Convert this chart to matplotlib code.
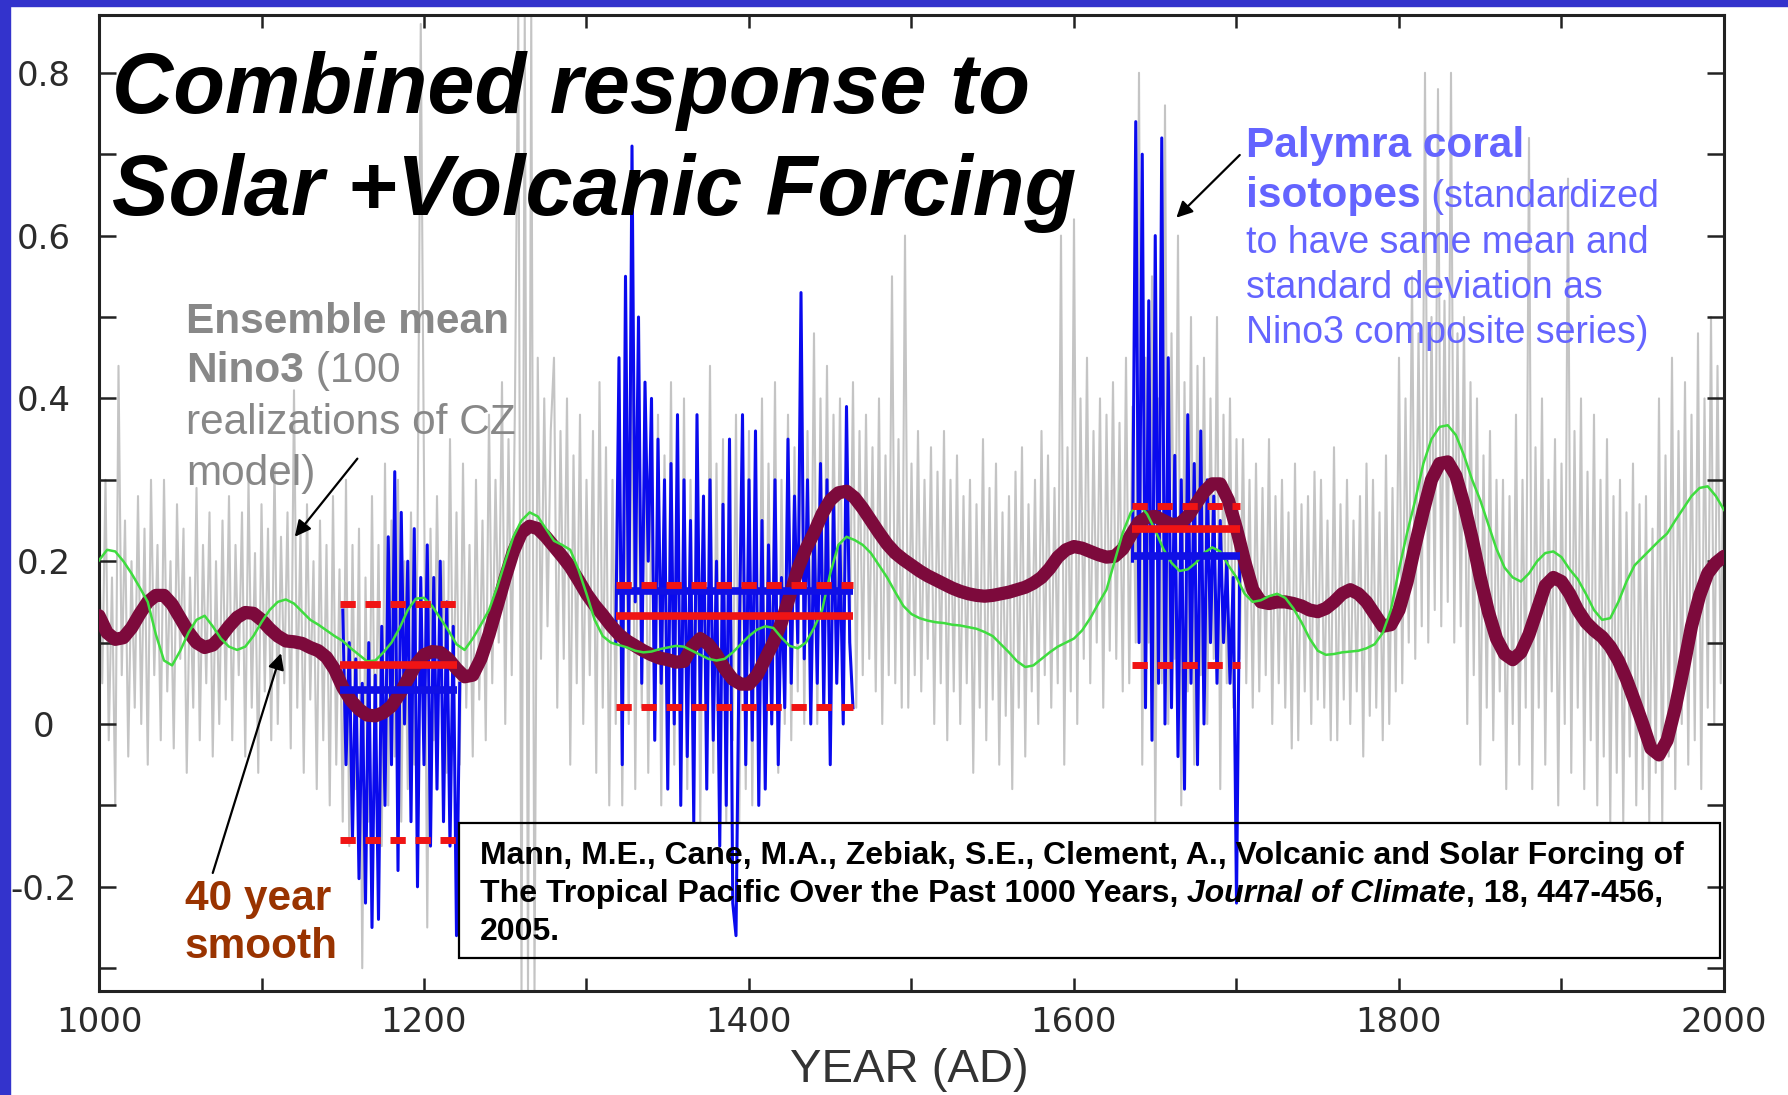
import numpy as np
import matplotlib.pyplot as plt
from matplotlib.patches import Rectangle

W, H = 1788, 1095

# serie anual del modelo (cada 2 años), una fila = 40 años
nino3_years = np.arange(1000, 2001, 2)
nino3_mean = [
    0.22, 0.05, 0.30, -0.02, 0.18, -0.10, 0.44, 0.06, 0.25, -0.04, 0.20, 0.02, 0.28, 0.00, 0.24, -0.05, 0.30, 0.06, 0.22, -0.02,
    0.30, 0.04, 0.20, -0.03, 0.27, 0.08, 0.24, -0.06, 0.18, 0.02, 0.29, -0.02, 0.22, 0.05, 0.26, -0.04, 0.20, 0.00, 0.25, 0.03,
    0.28, -0.02, 0.22, 0.06, 0.26, -0.04, 0.30, 0.02, 0.21, -0.06, 0.27, 0.04, 0.24, -0.02, 0.32, 0.00, 0.23, 0.05, 0.26, -0.03,
    0.41, 0.02, 0.24, -0.06, 0.27, 0.03, 0.20, -0.08, 0.25, -0.02, 0.22, -0.10, 0.28, -0.05, 0.19, -0.12, 0.30, -0.15, 0.22, -0.08,
    0.24, -0.30, 0.18, -0.12, 0.28, -0.08, 0.22, -0.15, 0.32, -0.10, 0.25, -0.04, 0.30, -0.12, 0.20, -0.08, 0.26, -0.05, 0.22, 0.86,
    0.30, -0.25, 0.24, -0.02, 0.28, 0.04, 0.20, -0.06, 0.35, 0.00, 0.26, -0.05, 0.32, 0.02, 0.22, -0.04, 0.30, 0.03, 0.25, -0.02,
    0.38, 0.05, 0.30, 0.10, 0.42, 0.00, 0.35, 0.06, 0.40, 0.87, -0.33, 0.87, -0.33, 0.87, -0.33, 0.45, 0.08, 0.40, 0.12, 0.36,
    0.45, 0.02, 0.36, 0.08, 0.40, -0.05, 0.33, 0.05, 0.38, 0.00, 0.30, 0.06, 0.36, -0.06, 0.42, 0.02, 0.34, -0.10, 0.30, 0.00,
    0.40, -0.10, 0.32, 0.00, 0.45, -0.08, 0.35, 0.02, 0.40, -0.06, 0.30, -0.02, 0.38, -0.10, 0.33, 0.00, 0.42, -0.05, 0.30, -0.08,
    0.40, -0.08, 0.30, 0.00, 0.36, -0.12, 0.28, -0.04, 0.44, -0.06, 0.32, -0.08, 0.35, -0.12, 0.27, -0.02, 0.38, -0.12, 0.30, -0.08,
    0.36, -0.10, 0.28, -0.02, 0.40, -0.05, 0.32, 0.02, 0.42, -0.06, 0.30, 0.00, 0.38, -0.02, 0.34, 0.04, 0.45, 0.00, 0.36, 0.05,
    0.48, 0.00, 0.40, 0.06, 0.44, 0.02, 0.38, 0.08, 0.40, 0.05, 0.35, 0.10, 0.42, 0.02, 0.36, 0.06, 0.38, 0.08, 0.34, 0.04,
    0.40, 0.00, 0.33, 0.06, 0.55, 0.05, 0.35, 0.02, 0.60, 0.02, 0.32, 0.06, 0.36, 0.04, 0.30, 0.08, 0.34, 0.00, 0.31, 0.05,
    0.36, -0.02, 0.30, 0.04, 0.33, 0.00, 0.28, 0.05, 0.30, -0.06, 0.27, 0.02, 0.35, -0.02, 0.29, 0.03, 0.32, -0.05, 0.26, 0.01,
    0.28, -0.08, 0.31, 0.02, 0.34, -0.04, 0.27, 0.04, 0.30, 0.00, 0.36, 0.06, 0.33, 0.02, 0.29, 0.05, 0.60, -0.05, 0.34, 0.04,
    0.62, 0.00, 0.40, 0.08, 0.45, 0.05, 0.36, 0.10, 0.40, 0.02, 0.38, 0.09, 0.42, 0.08, 0.37, 0.04, 0.45, 0.05, 0.39, 0.10,
    0.80, -0.05, 0.45, 0.10, 0.55, -0.12, 0.40, 0.05, 0.76, 0.00, 0.48, 0.08, 0.60, -0.10, 0.42, 0.04, 0.50, -0.05, 0.44, 0.06,
    0.45, 0.00, 0.40, 0.08, 0.50, -0.08, 0.38, 0.05, 0.40, 0.02, 0.35, 0.08, 0.35, 0.05, 0.30, 0.02, 0.32, 0.04, 0.29, 0.06,
    0.35, 0.00, 0.28, 0.05, 0.30, 0.02, 0.26, -0.03, 0.32, -0.02, 0.27, 0.04, 0.28, 0.00, 0.31, 0.03, 0.30, 0.02, 0.25, -0.02,
    0.34, -0.02, 0.27, 0.03, 0.30, 0.00, 0.25, 0.04, 0.28, -0.04, 0.32, 0.01, 0.30, 0.02, 0.26, -0.02, 0.33, 0.00, 0.29, 0.04,
    0.45, 0.05, 0.40, 0.10, 0.55, 0.08, 0.48, 0.12, 0.80, 0.10, 0.50, 0.14, 0.78, 0.12, 0.52, 0.15, 0.80, 0.10, 0.48, 0.12,
    0.50, 0.00, 0.42, 0.06, 0.40, -0.05, 0.33, 0.02, 0.36, -0.02, 0.30, 0.04, 0.30, -0.08, 0.28, 0.00, 0.38, -0.05, 0.30, 0.02,
    0.72, -0.08, 0.34, 0.02, 0.40, -0.05, 0.30, 0.04, 0.35, -0.10, 0.32, 0.00, 0.67, -0.06, 0.36, 0.02, 0.40, -0.08, 0.31, -0.02,
    0.38, -0.10, 0.30, -0.04, 0.35, -0.12, 0.28, -0.06, 0.30, -0.12, 0.26, -0.04, 0.32, -0.10, 0.27, -0.08, 0.28, -0.12, 0.24, -0.06,
    0.40, -0.12, 0.33, -0.04, 0.45, -0.08, 0.36, 0.00, 0.42, -0.05, 0.38, -0.02, 0.48, -0.08, 0.40, 0.02, 0.50, 0.00, 0.44, 0.05,
    0.40,
]

# curvas suavizadas (cada 5 años), una fila = un siglo
smooth_years = np.arange(1000, 2001, 5)
smooth40 = [
    0.133, 0.112, 0.104, 0.106, 0.118, 0.135, 0.150, 0.158, 0.158, 0.147, 0.130, 0.113, 0.100, 0.094, 0.097, 0.107, 0.120, 0.131, 0.137, 0.136,
    0.128, 0.117, 0.108, 0.102, 0.101, 0.099, 0.094, 0.090, 0.082, 0.067, 0.045, 0.029, 0.018, 0.011, 0.010, 0.014, 0.022, 0.037, 0.055, 0.073,
    0.085, 0.089, 0.088, 0.080, 0.068, 0.058, 0.060, 0.080, 0.110, 0.145, 0.180, 0.212, 0.235, 0.243, 0.240, 0.230, 0.218, 0.206, 0.193, 0.177,
    0.160, 0.146, 0.134, 0.121, 0.110, 0.102, 0.096, 0.090, 0.085, 0.081, 0.079, 0.076, 0.077, 0.095, 0.105, 0.098, 0.085, 0.068, 0.055, 0.049,
    0.049, 0.060, 0.080, 0.100, 0.125, 0.157, 0.190, 0.215, 0.235, 0.258, 0.275, 0.284, 0.286, 0.278, 0.265, 0.250, 0.235, 0.221, 0.210, 0.202,
    0.195, 0.188, 0.182, 0.177, 0.172, 0.167, 0.163, 0.160, 0.158, 0.157, 0.158, 0.160, 0.162, 0.165, 0.168, 0.173, 0.180, 0.191, 0.205, 0.214,
    0.218, 0.216, 0.212, 0.208, 0.205, 0.206, 0.215, 0.232, 0.248, 0.254, 0.255, 0.250, 0.245, 0.246, 0.255, 0.270, 0.285, 0.295, 0.295, 0.275,
    0.240, 0.200, 0.165, 0.150, 0.148, 0.150, 0.150, 0.148, 0.145, 0.140, 0.138, 0.142, 0.150, 0.160, 0.165, 0.160, 0.150, 0.135, 0.120, 0.122,
    0.140, 0.175, 0.220, 0.262, 0.300, 0.320, 0.322, 0.305, 0.270, 0.228, 0.180, 0.138, 0.105, 0.086, 0.079, 0.088, 0.110, 0.140, 0.170, 0.180,
    0.175, 0.160, 0.140, 0.125, 0.115, 0.107, 0.095, 0.078, 0.055, 0.028, 0.000, -0.030, -0.038, -0.020, 0.020, 0.068, 0.120, 0.158, 0.185, 0.198,
    0.206,
]
green_smooth = [
    0.201, 0.214, 0.212, 0.200, 0.185, 0.168, 0.150, 0.110, 0.078, 0.072, 0.090, 0.112, 0.128, 0.133, 0.120, 0.105, 0.095, 0.091, 0.095, 0.108,
    0.125, 0.140, 0.150, 0.153, 0.148, 0.138, 0.128, 0.122, 0.115, 0.108, 0.102, 0.093, 0.085, 0.077, 0.078, 0.088, 0.100, 0.118, 0.140, 0.154,
    0.155, 0.145, 0.130, 0.115, 0.098, 0.091, 0.105, 0.122, 0.140, 0.168, 0.200, 0.230, 0.250, 0.260, 0.255, 0.240, 0.225, 0.220, 0.214, 0.190,
    0.160, 0.128, 0.108, 0.100, 0.097, 0.094, 0.090, 0.088, 0.089, 0.092, 0.094, 0.096, 0.095, 0.090, 0.085, 0.080, 0.078, 0.080, 0.088, 0.098,
    0.108, 0.116, 0.120, 0.118, 0.106, 0.096, 0.093, 0.100, 0.118, 0.140, 0.185, 0.220, 0.230, 0.226, 0.220, 0.210, 0.195, 0.180, 0.162, 0.145,
    0.135, 0.130, 0.127, 0.125, 0.124, 0.122, 0.121, 0.119, 0.117, 0.113, 0.108, 0.098, 0.088, 0.077, 0.070, 0.072, 0.080, 0.088, 0.095, 0.100,
    0.105, 0.115, 0.130, 0.148, 0.165, 0.200, 0.235, 0.260, 0.270, 0.258, 0.238, 0.215, 0.198, 0.188, 0.190, 0.198, 0.210, 0.217, 0.212, 0.195,
    0.180, 0.160, 0.150, 0.152, 0.157, 0.160, 0.155, 0.142, 0.125, 0.105, 0.090, 0.085, 0.086, 0.088, 0.089, 0.090, 0.093, 0.098, 0.112, 0.140,
    0.190, 0.235, 0.275, 0.320, 0.350, 0.365, 0.367, 0.355, 0.330, 0.300, 0.275, 0.245, 0.215, 0.192, 0.180, 0.175, 0.185, 0.200, 0.210, 0.212,
    0.205, 0.190, 0.178, 0.160, 0.140, 0.128, 0.130, 0.150, 0.175, 0.195, 0.205, 0.215, 0.225, 0.234, 0.250, 0.265, 0.280, 0.290, 0.292, 0.280,
    0.263,
]

# isotopos de coral de Palmyra (cada 2 años), tres tramos
coral_starts = [1150, 1318, 1636]
coral1 = [0.14, -0.05, 0.10, -0.14, 0.08, -0.19, 0.05, -0.22, 0.10, -0.25,
          0.06, -0.24, 0.12, -0.10, 0.23, -0.05, 0.31, -0.18, 0.26, 0.00,
          0.20, -0.12, 0.24, -0.20, 0.18, -0.05, 0.22, -0.15, 0.18, -0.08,
          0.20, -0.12, 0.15, -0.15, 0.12, -0.26, 0.05]
coral2 = [0.10, 0.45, -0.05, 0.55, 0.10, 0.71, 0.15, 0.50, 0.05, 0.42,
          0.20, 0.40, -0.02, 0.35, 0.05, 0.30, -0.08, 0.32, 0.00, 0.38,
          -0.10, 0.30, -0.04, 0.25, -0.12, 0.38, 0.02, 0.28, -0.08, 0.30,
          -0.02, 0.20, -0.15, 0.27, -0.10, 0.35, -0.22, -0.26, 0.10, 0.38,
          -0.05, 0.30, -0.02, 0.36, -0.10, 0.25, -0.08, 0.22, 0.00, 0.30,
          -0.05, 0.18, 0.02, 0.35, 0.05, 0.28, 0.10, 0.53, 0.08, 0.30,
          0.00, 0.25, 0.05, 0.32, 0.02, 0.30, -0.05, 0.28, 0.05, 0.22,
          0.00, 0.39, 0.10, 0.02]
coral3 = [0.20, 0.74, 0.10, 0.70, 0.02, 0.52, -0.02, 0.60, 0.05, 0.72,
          0.00, 0.45, 0.02, 0.33, -0.04, 0.30, -0.08, 0.38, 0.05, 0.32,
          -0.05, 0.36, 0.00, 0.30, 0.10, 0.28, 0.05, 0.25, 0.10, 0.20,
          0.05, 0.18, -0.22, 0.20]

# medias y desvios por ventana
win_start = [1148, 1318, 1636]
win_end = [1220, 1464, 1702]
model_upper = [0.147, 0.171, 0.268]
model_mean = [0.073, 0.133, 0.240]
coral_mean = [0.042, 0.164, 0.207]
model_lower = [-0.143, 0.021, 0.073]

xtick_years = np.arange(1000, 2001, 100)
ytick_vals = [-0.3, -0.2, -0.1, 0.0, 0.1, 0.2, 0.3, 0.4, 0.5, 0.6, 0.7, 0.8]
ytick_text = ['', '-0.2', '', '0', '', '0.2', '', '0.4', '', '0.6', '', '0.8']

fig = plt.figure(figsize=(W / 100, H / 100), dpi=100)
fig.patch.set_facecolor('white')
ax = fig.add_axes([99 / W, 1 - 991 / H, (1724 - 99) / W, (991 - 15) / H])

ax.plot(nino3_years, nino3_mean, color='#c4c4c4', lw=1.5, zorder=1)
for start, vals in zip(coral_starts, [coral1, coral2, coral3]):
    yrs = np.arange(start, start + 2 * len(vals), 2)
    ax.plot(yrs, vals, color='#0a0aee', lw=2.2, zorder=2)
ax.plot(smooth_years, smooth40, color='#7d0a3c', lw=9.5,
        solid_joinstyle='round', solid_capstyle='round', zorder=3)
ax.plot(smooth_years, green_smooth, color='#3fdc3f', lw=1.8, zorder=4)

ax.hlines(coral_mean, win_start, win_end, color='#1010e6', lw=5.5, zorder=5)
ax.hlines(model_mean, win_start, win_end, color='#f01414', lw=5.5, zorder=6)
for lvl in (model_upper, model_lower):
    for x0, x1, v in zip(win_start, win_end, lvl):
        ax.plot([x0, x1], [v, v], color='#f01414', lw=5, dashes=(2.2, 1.4),
                zorder=6)

ax.set_xlim(1000, 2000)
ax.set_ylim(-0.328, 0.871)
ax.set_xticks(xtick_years)
ax.set_xticklabels([str(y) if y % 200 == 0 else '' for y in xtick_years])
ax.set_yticks(ytick_vals)
ax.set_yticklabels(ytick_text)
ax.tick_params(axis='x', direction='in', length=9.5, width=1.8, top=True,
               pad=11, labelsize=24.5, labelcolor='#2b2b2b', color='#222222')
ax.tick_params(axis='y', direction='in', length=12, width=1.8, right=True,
               pad=40, labelsize=24.5, labelcolor='#2b2b2b', color='#222222')
for lab in ax.get_yticklabels():
    lab.set_ha('center')
for sp in ax.spines.values():
    sp.set_linewidth(2.2)
    sp.set_color('#222222')

# flechas
arrow = dict(arrowstyle='-|>', color='black', lw=1.6, mutation_scale=24,
             shrinkA=0, shrinkB=0)
ax.annotate('', xy=(1120.5, 0.23), xytext=(1159, 0.326), arrowprops=arrow,
            annotation_clip=False)
ax.annotate('', xy=(1112, 0.087), xytext=(1070, -0.183), arrowprops=arrow,
            annotation_clip=False)
ax.annotate('', xy=(1663, 0.622), xytext=(1702, 0.699), arrowprops=arrow,
            annotation_clip=False)

# textos en pixeles de la figura
renderer = fig.canvas.get_renderer()


def put(x, y, s, **kw):
    return fig.text(x / W, 1 - y / H, s, va='baseline', **kw)


def put_line(x, y, pieces, **kw):
    for s, extra in pieces:
        t = put(x, y, s, **{**kw, **extra})
        x += t.get_window_extent(renderer).width


sans = 'Liberation Sans'
B = dict(fontweight='bold')
R = dict(fontweight='normal')

put(112, 113, 'Combined response to', family=sans, fontweight='bold',
    style='italic', fontsize=61, color='black')
put(112, 215, 'Solar +Volcanic Forcing', family=sans, fontweight='bold',
    style='italic', fontsize=61, color='black')

gray = dict(family=sans, fontsize=30.5, color='#888888')
put_line(186, 333, [('Ensemble mean', B)], **gray)
put_line(186, 382, [('Nino3', B), (' (100', R)], **gray)
put_line(186, 434, [('realizations of CZ', R)], **gray)
put_line(186, 485, [('model)', R)], **gray)

pal = dict(family=sans, color='#6464ff')
put_line(1246, 157, [('Palymra coral', dict(fontweight='bold', fontsize=30.5))], **pal)
put_line(1246, 207, [('isotopes', dict(fontweight='bold', fontsize=30.5)),
                     (' (standardized', dict(fontweight='normal', fontsize=27))], **pal)
put(1246, 253, 'to have same mean and', fontsize=27, **pal)
put(1246, 298, 'standard deviation as', fontsize=27, **pal)
put(1246, 343, 'Nino3 composite series)', fontsize=27, **pal)

put(185, 910, '40 year', family=sans, fontweight='bold', fontsize=30.5,
    color='#993300')
put(185, 958, 'smooth', family=sans, fontweight='bold', fontsize=30.5,
    color='#993300')

cite = dict(family=sans, fontweight='bold', fontsize=23, color='black')
put_line(480, 864, [('Mann, M.E., Cane, M.A., Zebiak, S.E., Clement, A., '
                     'Volcanic and Solar Forcing of', {})], **cite)
put_line(480, 902, [('The Tropical Pacific Over the Past 1000 Years,', {}),
                    (' Journal of Climate', dict(style='italic')),
                    (', 18, 447-456,', {})], **cite)
put_line(480, 940, [('2005.', {})], **cite)
fig.patches.append(Rectangle((459 / W, 1 - 958 / H), (1720 - 459) / W,
                             (958 - 823) / H, transform=fig.transFigure,
                             fill=False, lw=1.6, edgecolor='black', zorder=5))

put(909, 1082, 'YEAR (AD)', family=sans, fontsize=34, color='#333333',
    ha='center')

# franjas azules del borde
fig.patches.append(Rectangle((0, 0), 10 / W, 1, transform=fig.transFigure,
                             color='#3333cc', zorder=10))
fig.patches.append(Rectangle((0, 1 - 6 / H), 1, 6 / H,
                             transform=fig.transFigure, color='#3333cc',
                             zorder=10))

fig.savefig('out.png', dpi=100)
